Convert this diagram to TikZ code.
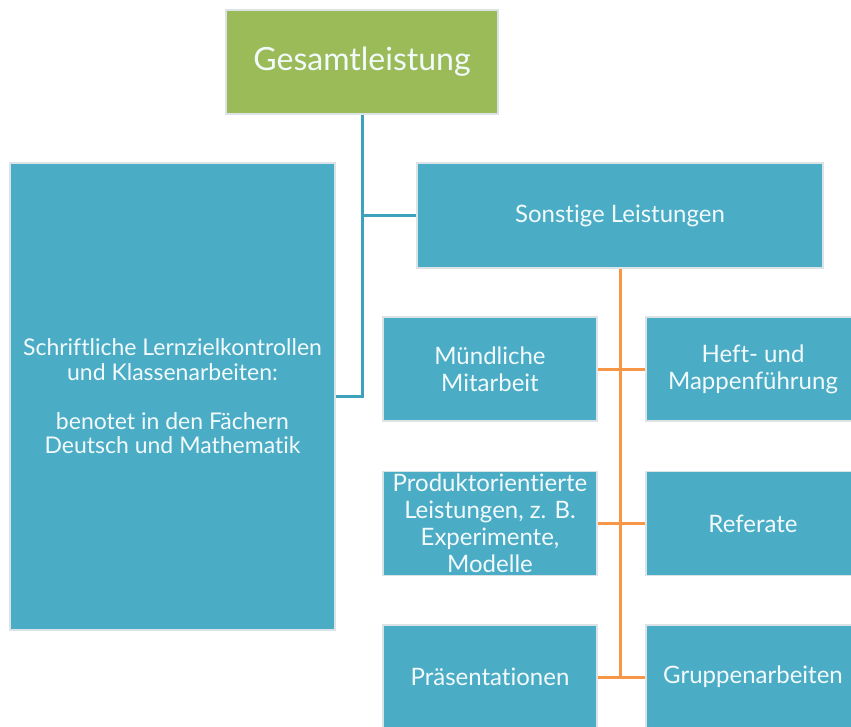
\documentclass[tikz,border=0pt]{standalone}
\usepackage{fontspec}
\setmainfont{Lato}[Ligatures=NoCommon]
\definecolor{boxblue}{HTML}{4BACC6}
\definecolor{boxgreen}{HTML}{9BBB59}
\definecolor{boxrim}{HTML}{DCE3E7}
\definecolor{boxtext}{HTML}{F2FAFC}
\definecolor{linkblue}{HTML}{3FA2BD}
\definecolor{linkorange}{HTML}{F79646}
\newcommand{\txt}[2]{\fontsize{#1}{#2}\selectfont}
\tikzset{
  tile/.style={rectangle, fill=boxblue, draw=boxrim, line width=1.5pt,
    text=boxtext, align=center, inner sep=2pt, font=\txt{24}{27}},
  rowtile/.style={tile, minimum width=214pt, minimum height=104pt},
  bluelink/.style={draw=linkblue, line width=3pt},
  orangelink/.style={draw=linkorange, line width=3pt}
}
\begin{document}
\begin{tikzpicture}[x=1pt, y=-1pt]
  \useasboundingbox (0,0) rectangle (851,727);
  \clip (0,0) rectangle (851,727);
  % top and second level
  \node[tile, fill=boxgreen, minimum width=272pt, minimum height=104pt, font=\txt{32}{38}]
    (ges) at (362,62) {Gesamtleistung};
  \node[tile, minimum width=325pt, minimum height=467pt, font=\txt{23}{24.5}]
    (schr) at (172.5,396.5)
    {Schriftliche Lernzielkontrollen\\und Klassenarbeiten:\\[24.5pt]benotet in den Fächern\\Deutsch und Mathematik};
  \node[tile, minimum width=406pt, minimum height=105pt] (sonst) at (620,215.5) {Sonstige Leistungen};
  % third level
  \node[rowtile] (mund)  at (490,369)   {Mündliche\\Mitarbeit};
  \node[rowtile] (heft)  at (753,369)   {Heft- und\\Mappenführung};
  \node[rowtile] (prod)  at (490,523.5) {Produktorientierte\\Leistungen, z. B.\\Experimente,\\Modelle};
  \node[rowtile] (ref)   at (753,523.5) {Referate};
  \node[rowtile] (praes) at (490,677)   {Präsentationen};
  \node[rowtile] (grup)  at (753,677)   {Gruppenarbeiten};
  % connectors
  \draw[bluelink] (ges.south) |- (schr.east);
  \draw[bluelink] (ges.south |- sonst.west) -- (sonst.west);
  \draw[orangelink] (sonst.south) -- (sonst.south |- grup.west);
  \foreach \l/\r in {mund/heft, prod/ref, praes/grup}
    \draw[orangelink] (\l) -- (\r);
\end{tikzpicture}
\end{document}
